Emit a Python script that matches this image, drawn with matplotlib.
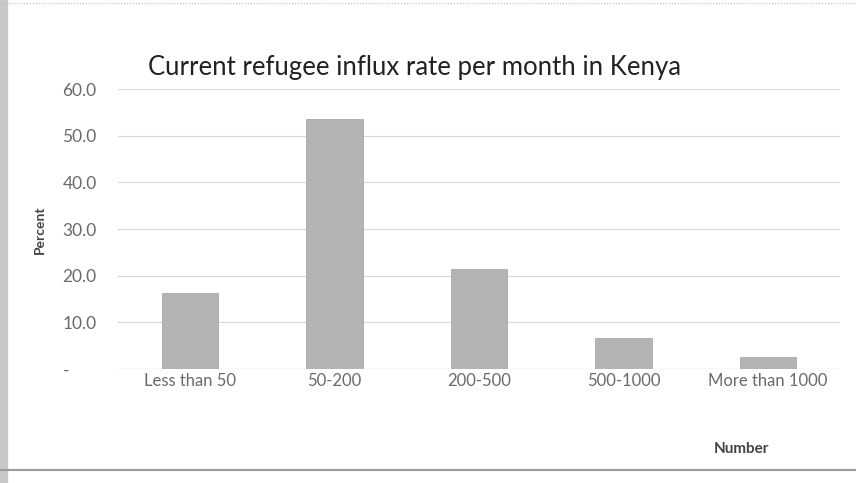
import matplotlib.pyplot as plt
import numpy as np

categories = ['Less than 50', '50-200', '200-500', '500-1000', 'More than 1000']
percent = [16.3, 53.5, 21.4, 6.6, 2.6]
yticks = [0, 10, 20, 30, 40, 50, 60]
ytick_labels = ['-', '10.0', '20.0', '30.0', '40.0', '50.0', '60.0']

plt.rcParams['font.family'] = ['Lato', 'DejaVu Sans']

fig = plt.figure(figsize=(8.56, 4.83), dpi=100)
ax = fig.add_axes([118 / 856, 1 - 369 / 483, (840 - 118) / 856, (369 - 89) / 483])

x = np.arange(len(categories))
ax.bar(x, percent, width=0.39, color='#b4b4b4', edgecolor='#a8a8a8', linewidth=0.6, zorder=3)

ax.set_xlim(-0.5, len(categories) - 0.5)
ax.set_ylim(0, 60)
ax.set_yticks(yticks)
ax.set_yticklabels(ytick_labels, color='#6a6a6a', fontsize=12.5)
ax.set_xticks(x)
ax.set_xticklabels(categories, color='#6a6a6a', fontsize=12)
ax.tick_params(length=0)
ax.tick_params(axis='x', pad=3)
ax.tick_params(axis='y', pad=40)
for lbl in ax.get_yticklabels():
    lbl.set_horizontalalignment('left')

ax.grid(axis='y', color='#d8d8d8', linewidth=0.8, zorder=0)
for s in ax.spines.values():
    s.set_visible(False)
ax.axhline(0, color='#d0d0d0', linewidth=0.8, zorder=2)

fig.text(415 / 856, 1 - 68 / 483, 'Current refugee influx rate per month in Kenya',
         ha='center', va='center', fontsize=18.5, color='#222222')
fig.text(40 / 856, 1 - 230 / 483, 'Percent', rotation=90, ha='center', va='center',
         fontsize=10, fontweight='bold', color='#444444')
fig.text(741 / 856, 1 - 449 / 483, 'Number', ha='center', va='center',
         fontsize=11, fontweight='bold', color='#444444')

# page edges from the scanned document
fig.patches.append(plt.Rectangle((0, 0), 7 / 856, 1, transform=fig.transFigure,
                                 color='#c8c8c8', zorder=0))
fig.lines.append(plt.Line2D([0, 1], [1 - 470 / 483] * 2, transform=fig.transFigure,
                            color='#9a9a9a', linewidth=1.5))
fig.lines.append(plt.Line2D([0, 1], [1 - 3 / 483] * 2, transform=fig.transFigure,
                            color='#bbbbbb', linewidth=0.8, linestyle=':'))

fig.savefig('out.png', dpi=100)
